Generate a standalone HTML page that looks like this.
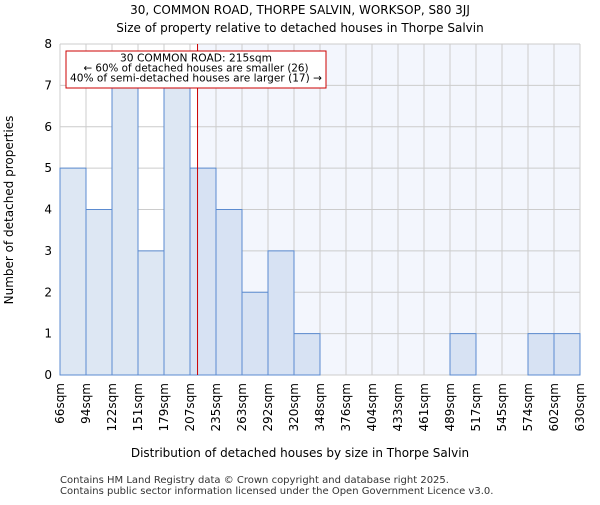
<!DOCTYPE html>
<html><head><meta charset="utf-8"><style>
body{margin:0;background:#fff;font-family:"Liberation Sans","DejaVu Sans",sans-serif}
</style></head><body>
<svg id="c" width="600" height="500" xmlns="http://www.w3.org/2000/svg" font-family="DejaVu Sans, Liberation Sans, sans-serif">
<text x="300" y="14" text-anchor="middle" font-size="12">30, COMMON ROAD, THORPE SALVIN, WORKSOP, S80 3JJ</text>
<text x="300" y="32" text-anchor="middle" font-size="12">Size of property relative to detached houses in Thorpe Salvin</text>
<g id="plot"></g>
<text x="300" y="457" text-anchor="middle" font-size="12">Distribution of detached houses by size in Thorpe Salvin</text>
<text transform="translate(13,210) rotate(-90)" text-anchor="middle" font-size="12">Number of detached properties</text>
<text x="60" y="483" font-size="10" fill="#333">Contains HM Land Registry data © Crown copyright and database right 2025.</text>
<text x="60" y="494" font-size="10" fill="#333">Contains public sector information licensed under the Open Government Licence v3.0.</text>
</svg>
<script>
const categories=["66sqm","94sqm","122sqm","151sqm","179sqm","207sqm","235sqm","263sqm","292sqm","320sqm","348sqm","376sqm","404sqm","433sqm","461sqm","489sqm","517sqm","545sqm","574sqm","602sqm","630sqm"];
const counts=[5,4,7,3,7,5,4,2,3,1,0,0,0,0,0,1,0,0,1,1];
const yTicks=[0,1,2,3,4,5,6,7,8];
const propertyBin=5.29;
const NS="http://www.w3.org/2000/svg";
const X0=60,X1=580,Y0=375,Y1=44,nb=counts.length;
const xs=i=>X0+(X1-X0)*i/nb;
const ys=v=>Y0-(Y0-Y1)*v/8;
const g=document.getElementById('plot');
function mk(t,a){const e=document.createElementNS(NS,t);for(const k in a)e.setAttribute(k,a[k]);g.appendChild(e);return e;}
const lx=xs(propertyBin);
let e=mk('rect',{x:lx,y:Y1,width:X1-lx,height:Y0-Y1,fill:'#f3f6fd'});


for(let i=0;i<=nb;i++){e=mk('line',{x1:xs(i),x2:xs(i),y1:Y1,y2:Y0,stroke:'#cccccc'});

}
yTicks.forEach(t=>{e=mk('line',{x1:X0,x2:X1,y1:ys(t),y2:ys(t),stroke:'#cccccc'});


e=mk('text',{x:X0-8,y:ys(t)+4,'text-anchor':'end','font-size':12});e.textContent=t;

});
counts.forEach((v,i)=>{if(v<=0)return;
e=mk('rect',{x:xs(i),y:ys(v),width:xs(i+1)-xs(i),height:Y0-ys(v),fill:i>=5?'#d7e2f3':'#dde7f3',stroke:'#5b8bd0','stroke-width':1});

});
categories.forEach((c,i)=>{e=mk('text',{transform:`translate(${xs(i)+4},${Y0+8}) rotate(-90)`,'text-anchor':'end','font-size':12});e.textContent=c;

});
e=mk('line',{x1:lx,x2:lx,y1:Y1,y2:Y0,stroke:'#cc0000','stroke-width':1});


e=mk('rect',{x:66,y:51,width:260,height:37,fill:'#fff',stroke:'#cc0000'});


const ann=["30 COMMON ROAD: 215sqm","← 60% of detached houses are smaller (26)","40% of semi-detached houses are larger (17) →"];
const annW=[152,225,252];
ann.forEach((s,k)=>{
e=mk('text',{x:196,y:61.5+k*10,'text-anchor':'middle','font-size':10.5,textLength:annW[k],lengthAdjust:'spacingAndGlyphs'});e.textContent=s;

});
</script>
</body></html>
